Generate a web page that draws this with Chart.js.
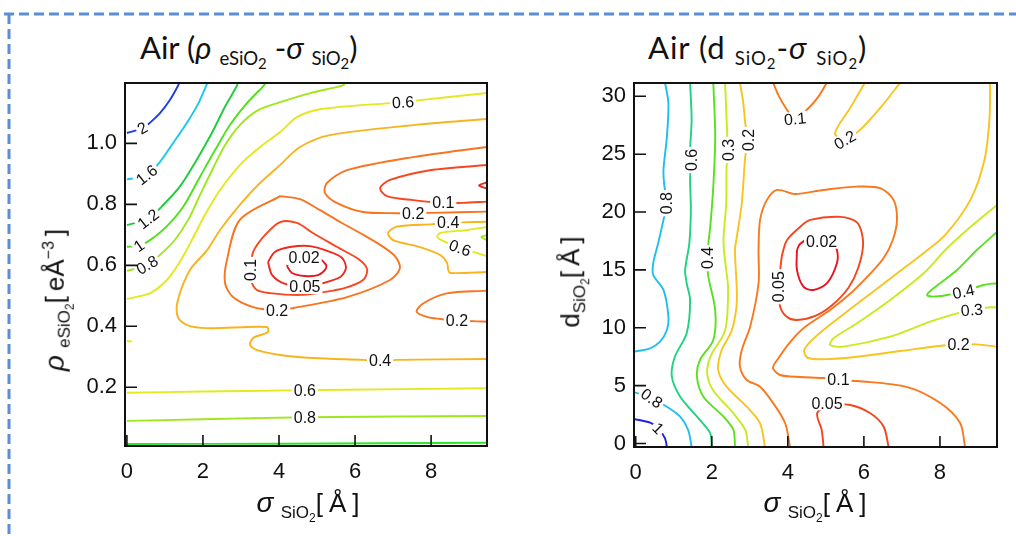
<!DOCTYPE html>
<html>
<head>
<meta charset="utf-8">
<script src="https://cdn.jsdelivr.net/npm/chart.js@4.4.1/dist/chart.umd.min.js"></script>
<style>
  html, body { margin: 0; padding: 0; background: #fff; }
  body { width: 1016px; height: 536px; position: relative; overflow: hidden;
         font-family: "Liberation Sans", Arial, sans-serif; color: #111; }
  canvas { position: absolute; }
  #cL { left: 50px; top: 70px; }
  #cR { left: 560px; top: 70px; }
  .ttl { position: absolute; top: 32px; font-family: Lato, "Open Sans", sans-serif; font-size: 31px;
         white-space: nowrap; line-height: 1; }
  .ttl .g { font-style: italic; }
  .ttl sub { font-size: 0.6em; vertical-align: -0.3em; }
  .ttl sub sub { font-size: 0.8em; vertical-align: -0.25em; }
  .ax { position: absolute; white-space: nowrap; line-height: 1; font-size: 26px; }
  .ax .g { font-style: italic; font-size: 28px; }
  .ax sub { font-size: 17px; vertical-align: -0.35em; }
  .ax sub sub { font-size: 12px; vertical-align: -0.3em; }
  .ax sup { font-size: 16px; vertical-align: 0.6em; }
  .ax .br { letter-spacing: 6px; }
  .ax .bs { margin: 0 5px; }
  .rot { transform: translate(-50%, -50%) rotate(-90deg); }
  .hx { transform: translateX(-50%); }
</style>
</head>
<body>
<svg width="1016" height="536" style="position:absolute;left:0;top:0">
  <line x1="4" y1="14" x2="1016" y2="14" stroke="#5b8ed6" stroke-width="3" stroke-dasharray="10 5"/>
  <line x1="9" y1="14" x2="9" y2="536" stroke="#5b8ed6" stroke-width="3" stroke-dasharray="10 5"/>
</svg>

<div class="ttl" style="left:140px">Air (<span class="g">ρ</span> <sub>eSiO<sub>2</sub></sub> -<span class="g">σ</span> <sub>SiO<sub>2</sub></sub>)</div>
<div class="ttl" style="left:648px;letter-spacing:1px">Air (d <sub>SiO<sub>2</sub></sub>-<span class="g">σ</span> <sub>SiO<sub>2</sub></sub>)</div>

<canvas id="cL" width="450" height="466"></canvas>
<canvas id="cR" width="450" height="466"></canvas>

<div class="ax hx" style="left:311px;top:489px"><span class="g">σ</span> <sub>SiO<sub>2</sub></sub><span class="br">[Å]</span></div>
<div class="ax hx" style="left:818px;top:489px"><span class="g">σ</span> <sub>SiO<sub>2</sub></sub><span class="br">[Å]</span></div>
<div class="ax rot" style="left:58px;top:300px"><span class="g">ρ</span> <sub>eSiO<sub>2</sub></sub>[<span class="bs">eÅ<sup>−3</sup></span>]</div>
<div class="ax rot" style="left:574px;top:282px">d<sub>SiO<sub>2</sub></sub>[<span class="bs">Å</span>]</div>

<script>
// ---------- shared ticks ----------
const xTicks  = [0, 2, 4, 6, 8];
const yTicksL = [0.2, 0.4, 0.6, 0.8, 1.0];
const yTicksR = [0, 5, 10, 15, 20, 25, 30];

// ---------- left panel: rho_eSiO2 vs sigma_SiO2, contour polylines [sigma, rho] ----------
const L_2   = [[0,1.034],[0.41,1.05],[0.61,1.068],[0.87,1.099],[1.13,1.142],[1.34,1.188],[1.38,1.2]];
const L_16  = [[0,0.882],[0.52,0.897],[0.85,0.936],[1.22,1.002],[1.57,1.066],[1.88,1.131],[2.08,1.188],[2.12,1.2]];
const L_12  = [[0,0.732],[0.56,0.752],[0.91,0.792],[1.39,0.858],[1.83,0.945],[2.23,1.033],[2.58,1.12],[2.89,1.188],[2.92,1.2]];
const L_1   = [[0,0.661],[0.32,0.664],[0.59,0.681],[1.04,0.727],[1.48,0.792],[1.92,0.89],[2.32,0.978],[2.71,1.06],[3.15,1.131],[3.59,1.188],[3.66,1.2]];
const L_08  = [[0,0.582],[0.53,0.601],[0.92,0.64],[1.26,0.683],[1.61,0.749],[1.92,0.83],[2.24,0.912],[2.58,0.994],[2.97,1.06],[3.45,1.109],[4.03,1.135],[4.82,1.165],[5.68,1.19],[5.74,1.2]];
const L_06  = [[0,0.49],[0.61,0.509],[1.05,0.552],[1.39,0.611],[1.71,0.683],[2.05,0.765],[2.45,0.847],[2.97,0.929],[3.5,0.988],[4.03,1.037],[4.47,1.086],[5.08,1.112],[6.92,1.132],[7.26,1.135],[7.71,1.142],[9.47,1.165]];
const L_04  = [[9.47,1.08],[7.53,1.06],[5.34,1.027],[4.55,0.988],[4.03,0.929],[3.5,0.87],[2.97,0.798],[2.45,0.716],[2.11,0.65],[1.66,0.585],[1.34,0.486],[1.34,0.43],[1.58,0.404],[2.11,0.394],[3.68,0.398],[3.71,0.381],[3.32,0.362],[3.24,0.339],[3.42,0.322],[4.03,0.306],[4.89,0.296],[6.21,0.29],[6.66,0.287],[7.1,0.29],[9.47,0.293]];
const L_02a = [[4.03,0.827],[2.97,0.749],[2.63,0.617],[2.58,0.542],[2.79,0.496],[3.32,0.463],[3.95,0.453],[4.37,0.46],[5.79,0.496],[6.92,0.552],[7.18,0.591],[7.05,0.63],[6.66,0.667],[6.13,0.706],[5.61,0.742],[5.08,0.781],[4.55,0.817],[4.03,0.827]];
const L_01a = [[3.26,0.585],[3.32,0.644],[3.63,0.699],[4.03,0.742],[4.47,0.739],[4.89,0.706],[5.53,0.66],[6.13,0.617],[6.32,0.585],[6.21,0.552],[5.74,0.526],[5.16,0.512],[4.55,0.503],[3.76,0.509],[3.42,0.519],[3.26,0.552],[3.26,0.585]];
const L_005a = [[3.71,0.611],[3.82,0.568],[4.16,0.539],[4.68,0.529],[5.16,0.542],[5.61,0.562],[5.76,0.591],[5.66,0.624],[5.34,0.644],[4.82,0.663],[4.29,0.66],[3.89,0.644],[3.71,0.611]];
const L_002 = [[4.21,0.598],[4.34,0.575],[4.68,0.565],[5.03,0.568],[5.21,0.585],[5.24,0.601],[5.03,0.624],[4.66,0.634],[4.34,0.624],[4.21,0.598]];
const L_02b = [[9.47,0.988],[7.53,0.955],[5.79,0.912],[5.26,0.87],[5.21,0.837],[5.53,0.804],[6.21,0.775],[7.1,0.771],[7.53,0.771],[7.97,0.772],[9.47,0.776]];
const L_01b = [[9.47,0.929],[7.97,0.912],[6.92,0.88],[6.66,0.853],[6.84,0.827],[7.53,0.814],[8.32,0.805],[8.84,0.805],[9.47,0.809]];
const L_005b = [[9.47,0.872],[9.26,0.862],[9.47,0.852]];
const L_04b = [[9.47,0.743],[8.84,0.741],[8.45,0.739],[8.05,0.735],[7.1,0.727],[6.87,0.706],[7.0,0.683],[7.71,0.66],[8.24,0.634],[8.42,0.608],[8.45,0.585],[8.5,0.575],[9.47,0.578]];
const L_06b = [[9.47,0.726],[8.95,0.716],[8.24,0.706],[8.16,0.693],[8.32,0.68],[8.55,0.667],[8.76,0.657],[9.21,0.64],[9.47,0.63]];
const L_08b = [[9.47,0.699],[9.32,0.693],[9.47,0.683]];
const L_02c = [[9.47,0.517],[8.41,0.508],[7.79,0.475],[7.62,0.448],[7.89,0.431],[8.24,0.424],[8.68,0.418],[9.11,0.417],[9.47,0.415]];
const L_06c = [[0,0.182],[2,0.186],[4.29,0.19],[4.68,0.19],[5.08,0.191],[9.47,0.197]];
const L_06d = [[0,0.352],[0.13,0.35]];
const L_08c = [[0,0.09],[2,0.095],[4.68,0.102],[9.47,0.106]];
const L_1c  = [[0,0.014],[4,0.015],[9.47,0.018]];

// contour labels: [text, sigma, rho]
const labL = [["2",0.41,1.05],["1.6",0.52,0.897],["1.2",0.56,0.752],["1",0.32,0.664],["0.8",0.53,0.601],
  ["0.6",7.26,1.135],["0.2",7.53,0.771],["0.1",8.32,0.805],["0.4",8.45,0.739],["0.6",8.76,0.657],
  ["0.02",4.66,0.624],["0.05",4.68,0.529],["0.1",3.26,0.585],["0.2",3.95,0.453],["0.2",8.68,0.418],
  ["0.4",6.66,0.287],["0.6",4.68,0.19],["0.8",4.68,0.102]];

// ---------- right panel: d_SiO2 vs sigma_SiO2, contour polylines [sigma, d] ----------
const R_08a = [[0.77,31.2],[0.86,29.4],[0.82,26.52],[0.73,23.64],[0.75,22.34],[0.82,20.76],[0.73,19.32],[0.59,17.3],[0.46,15.57],[0.46,14.56],[0.73,13.27],[0.86,10.96],[0.82,9.81],[0.64,8.8],[0.38,8.23],[-0.05,7.93]];
const R_08b = [[-0.05,4.45],[0.42,3.91],[0.82,3.18],[1.17,2.32],[1.38,1.17],[1.47,-0.3]];
const R_1   = [[-0.05,2.12],[0.38,1.8],[0.59,1.31],[0.77,0.45],[0.82,-0.3]];
const R_06  = [[1.43,31.2],[1.47,27.96],[1.43,25.22],[1.47,24.5],[1.43,23.06],[1.45,20.18],[1.41,17.3],[1.3,15.0],[1.34,13.85],[1.43,12.4],[1.34,9.52],[1.03,7.5],[0.95,5.77],[1.17,4.05],[1.69,2.03],[1.96,0.88],[2.0,-0.3]];
const R_04  = [[2.04,31.2],[2.09,26.52],[2.04,22.2],[1.96,18.74],[1.91,17.3],[1.88,16.03],[1.91,14.42],[2.09,11.54],[2.04,8.95],[1.69,7.22],[1.61,5.77],[1.78,4.05],[2.31,2.32],[2.57,1.17],[2.61,-0.3]];
const R_03  = [[2.35,31.2],[2.39,27.96],[2.41,26.52],[2.44,25.37],[2.39,23.93],[2.38,20.76],[2.31,17.87],[2.32,16.72],[2.38,15.0],[2.43,13.27],[2.35,9.77],[1.96,7.48],[1.88,6.09],[2.03,4.62],[2.56,2.64],[2.88,1.17],[2.96,-0.3]];
const R_02a = [[2.74,31.2],[2.83,29.4],[2.88,27.68],[2.96,26.23],[2.88,24.79],[2.79,20.76],[2.66,17.87],[2.61,16.72],[2.66,12.4],[2.53,9.81],[2.26,8.08],[2.17,6.35],[2.39,4.91],[2.92,3.18],[3.27,1.75],[3.4,-0.3]];
const R_01a = [[4.06,-0.3],[3.93,1.75],[3.62,3.47],[3.27,4.91],[2.92,5.49],[2.74,6.64],[2.79,8.08],[3.01,10.1],[3.23,13.85],[3.23,16.72],[3.27,19.32],[3.45,21.05],[3.72,21.91],[4.19,21.56],[4.94,21.91],[5.82,22.2],[6.43,22.06],[6.78,21.05],[6.87,19.32],[6.76,17.59],[6.52,16.03],[6.16,14.65],[5.69,13.09],[5.11,11.54],[4.45,10.07],[4.06,8.77],[3.72,7.22],[3.61,6.53],[3.8,5.92],[4.32,5.75],[4.93,5.66],[5.33,5.49],[5.83,5.4],[7.14,4.88],[8.01,3.5],[8.53,1.77],[8.66,-0.3]];
const R_005a = [[3.75,13.55],[3.8,15.0],[3.85,16.29],[3.98,17.59],[4.32,18.71],[4.59,19.32],[5.38,19.58],[5.83,19.06],[5.98,17.33],[5.85,15.17],[5.59,13.44],[5.17,11.97],[4.72,11.02],[4.24,10.67],[3.98,10.93],[3.8,11.8],[3.75,13.55]];
const R_002 = [[4.24,16.72],[4.24,15.0],[4.41,13.55],[4.67,13.27],[5.03,13.85],[5.29,15.57],[5.29,16.72],[5.11,17.76],[4.89,17.93],[4.59,17.76],[4.32,17.24],[4.24,16.72]];
const R_01b = [[3.61,31.2],[3.75,30.12],[3.93,29.08],[4.19,28.05],[4.54,28.97],[4.8,29.95],[5.03,31.2]];
const R_02b = [[6.03,31.2],[5.64,29.0],[5.24,26.81],[5.5,26.23],[5.9,27.1],[6.43,29.0],[6.96,31.2]];
const R_02c = [[9.32,31.2],[9.3,27.96],[9.17,24.5],[8.8,21.05],[8.14,18.02],[7.61,16.55],[7.09,15.25],[6.3,13.27],[5.38,10.96],[4.72,9.2],[4.43,8.08],[4.53,7.39],[5.11,7.3],[5.82,7.5],[6.96,7.99],[8.18,8.51],[8.49,8.51],[8.97,8.57],[9.5,8.37]];
const R_03b = [[9.5,20.61],[8.71,18.45],[8.14,16.72],[7.57,14.71],[6.69,12.4],[5.82,10.39],[5.2,9.09],[5.11,8.51],[5.46,8.37],[6.69,9.23],[7.74,10.53],[8.45,11.25],[8.84,11.54],[9.32,11.77],[9.5,11.77]];
const R_04b = [[9.5,18.28],[8.97,16.72],[8.45,15.0],[7.83,13.41],[7.66,12.83],[7.83,12.69],[8.18,12.83],[8.62,13.12],[9.15,13.7],[9.5,13.85]];
const R_005b = [[4.94,-0.3],[4.89,1.17],[4.77,2.6],[5.03,3.25],[5.64,3.33],[6.17,2.61],[6.52,1.45],[6.65,-0.3]];

const labR = [["0.8",0.82,20.76],["0.6",1.47,24.5],["0.4",1.88,16.03],["0.3",2.44,25.37],["0.2",2.96,26.23],
  ["0.1",4.19,28.05],["0.2",5.5,26.23],["0.02",4.89,17.44],["0.05",3.75,13.55],["0.4",8.62,13.12],
  ["0.3",8.84,11.54],["0.2",8.49,8.51],["0.1",5.33,5.49],["0.05",5.03,3.47],["0.8",0.42,3.91],["1",0.59,1.31]];

// ---------- styling ----------
const colL = { "2":"#1e3ce6", "1.6":"#18c8f0", "1.2":"#1ecc3c", "1":"#4ee01e", "0.8":"#a0e61e", "0.6":"#e4e81c",
  "0.4":"#f8b41e", "0.2":"#f8741e", "0.1":"#f8461e", "0.05":"#f0281e", "0.02":"#e8141e", "1b":"#28e828" };
const colR = { "1":"#2020e6", "0.8":"#1ebef0", "0.6":"#1ed282", "0.4":"#5ae01e", "0.3":"#c8ea1e",
  "0.2":"#f8c41e", "0.1":"#f8781e", "0.05":"#f4461e", "0.02":"#e8141e" };
const rotL = [-30,-38,-38,-35,-30, -3,0,0,0,20, 0,0,-90,0,0, 0,0,0];
const rotR = [-90,-90,-90,-90,-90, -5,-30,0,-90,-12, -5,0,0,0,35,45];

const linesL = [[L_2,"2"],[L_16,"1.6"],[L_12,"1.2"],[L_1,"1"],[L_08,"0.8"],[L_06,"0.6"],[L_04,"0.4"],
  [L_02a,"0.2"],[L_01a,"0.1"],[L_005a,"0.05"],[L_002,"0.02"],[L_02b,"0.2"],[L_01b,"0.1"],[L_005b,"0.05"],
  [L_04b,"0.4"],[L_06b,"0.6"],[L_08b,"0.8"],[L_02c,"0.2"],[L_06c,"0.6"],[L_06d,"0.6"],[L_08c,"0.8"],[L_1c,"1b"]];
const linesR = [[R_08a,"0.8"],[R_08b,"0.8"],[R_1,"1"],[R_06,"0.6"],[R_04,"0.4"],[R_03,"0.3"],[R_02a,"0.2"],
  [R_01a,"0.1"],[R_005a,"0.05"],[R_002,"0.02"],[R_01b,"0.1"],[R_02b,"0.2"],[R_02c,"0.2"],[R_03b,"0.3"],
  [R_04b,"0.4"],[R_005b,"0.05"]];

const mkSets = (lines, colours) => lines.map(([pts, lev]) => ({
  data: pts.map(([x, y]) => ({ x, y })),
  showLine: true, pointRadius: 0, borderWidth: 1.9, tension: 0.3, fill: false,
  borderColor: colours[lev],
}));

// labels with white backing, frame box, inward tick marks
function makeDecor(labels, rots, xt, yt) {
  return {
    id: "contourDecor",
    afterDatasetsDraw(chart) {
      const { ctx, chartArea: a, scales: { x, y } } = chart;
      ctx.save();
      ctx.font = '16px "Liberation Sans", Arial, sans-serif';
      ctx.textAlign = "center"; ctx.textBaseline = "middle";
      labels.forEach(([t, vx, vy], i) => {
        const px = x.getPixelForValue(vx), py = y.getPixelForValue(vy);
        const w = ctx.measureText(t).width;
        ctx.save();
        ctx.translate(px, py); ctx.rotate((rots[i] || 0) * Math.PI / 180);
        ctx.fillStyle = "#fff"; ctx.fillRect(-w / 2 - 2, -7, w + 4, 14);
        ctx.fillStyle = "#111"; ctx.fillText(t, 0, 1);
        ctx.restore();
      });
      ctx.strokeStyle = "#111"; ctx.lineWidth = 2;
      ctx.strokeRect(a.left, a.top, a.right - a.left, a.bottom - a.top);
      ctx.lineWidth = 1.6;
      ctx.beginPath();
      xt.forEach(v => { const p = x.getPixelForValue(v); ctx.moveTo(p, a.bottom); ctx.lineTo(p, a.bottom - 11); });
      yt.forEach(v => { const p = y.getPixelForValue(v); ctx.moveTo(a.left, p); ctx.lineTo(a.left + 12, p); });
      ctx.stroke();
      ctx.restore();
    },
  };
}

function axis(min, max, ticks, fmt, isX, size) {
  return {
    type: "linear", min, max,
    afterBuildTicks: s => { s.ticks = ticks.map(v => ({ value: v })); },
    afterFit: s => {
      if (isX) { s.height = size; s.paddingLeft = 0; s.paddingRight = 0; }
      else { s.width = size; s.paddingTop = 0; s.paddingBottom = 0; }
    },
    grid: { display: false, drawTicks: false },
    border: { display: false },
    ticks: { color: "#111", padding: isX ? 13 : 8, autoSkip: false, maxRotation: 0, callback: fmt,
             font: { family: '"Liberation Sans", Arial, sans-serif', size: 22 } },
  };
}

function build(id, lines, colours, labels, rots, xr, yr, yTicks, yFmt, yW, xH) {
  new Chart(document.getElementById(id), {
    type: "scatter",
    data: { datasets: mkSets(lines, colours) },
    options: {
      responsive: false, animation: false, devicePixelRatio: 1, events: [],
      layout: { padding: { top: 13, right: 13, left: 0, bottom: 0 } },
      plugins: { legend: { display: false }, tooltip: { enabled: false } },
      scales: {
        x: axis(xr[0], xr[1], xTicks, v => String(v), true, xH),
        y: axis(yr[0], yr[1], yTicks, yFmt, false, yW),
      },
    },
    plugins: [makeDecor(labels, rots, xTicks, yTicks)],
  });
}

build("cL", linesL, colL, labL, rotL, [-0.05, 9.47], [0.0075, 1.198], yTicksL, v => v.toFixed(1), 75, 90);
build("cR", linesR, colR, labR, rotR, [-0.045, 9.5], [-0.3, 31.15], yTicksR, v => String(v), 74, 89);
</script>
</body>
</html>
